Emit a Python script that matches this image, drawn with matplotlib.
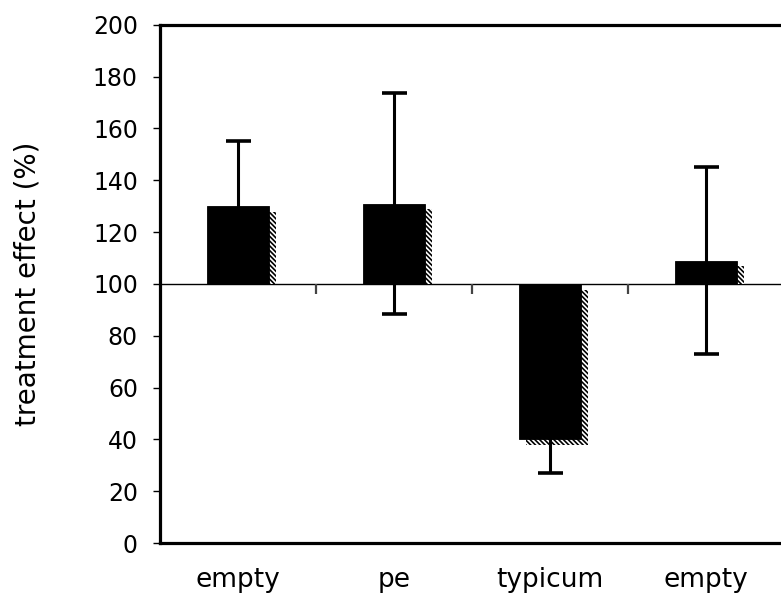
import matplotlib
matplotlib.use("Agg")
import matplotlib.pyplot as plt
import numpy as np

# Treatment effect per group, relative to control (100 %)
categories = ["empty", "pe", "typicum", "empty"]
effect = [130, 131, 40, 109]
err = [25, 42.5, 13, 36]
baseline = 100
y_ticks = [0, 20, 40, 60, 80, 100, 120, 140, 160, 180, 200]

plt.rcParams["hatch.linewidth"] = 1.2

fig = plt.figure(figsize=(7.81, 6.02), dpi=100)
ax = fig.add_axes([0.205, 0.098, 0.799, 0.861])

x = np.arange(len(categories))
values = np.array(effect, dtype=float)
heights = values - baseline
width = 0.40

# drop shadow: shifted right and down, never crossing the baseline upwards
dx, dy = 0.045, 2.3
shadow_bottom = np.where(heights < 0, baseline - dy, baseline)
shadow_height = (values - dy) - shadow_bottom

ax.axhline(baseline, color="black", lw=1.0, zorder=1)

ax.bar(x + dx, shadow_height, width=width, bottom=shadow_bottom,
       facecolor="white", edgecolor="black", linewidth=0,
       hatch="\\\\\\\\\\\\\\", zorder=2)

ax.errorbar(x, effect, yerr=err, fmt="none", ecolor="black",
            elinewidth=2.2, capsize=9, capthick=2.6, zorder=3)

ax.bar(x, heights, width=width, bottom=baseline,
       color="black", edgecolor="black", linewidth=0.6, zorder=4)

# small category separators on the 100 % line
ax.plot(x[:-1] + 0.5, [baseline] * (len(x) - 1), linestyle="none",
        marker=3, markersize=7, mew=1.6, color="#444444", zorder=1)

ax.set_xlim(-0.5, len(categories) - 0.5)
ax.set_ylim(0, 200)
ax.set_yticks(y_ticks)
ax.set_xticks(x)
ax.set_xticklabels(categories)

ax.tick_params(axis="y", direction="out", length=5, width=1.0,
               labelsize=17, pad=11)
ax.tick_params(axis="x", length=0, labelsize=19, pad=17)

for side in ["left", "top", "bottom"]:
    ax.spines[side].set_linewidth(2.3)
ax.spines["right"].set_visible(False)

ax.set_ylabel("treatment effect (%)", fontsize=20)
ax.yaxis.set_label_coords(-0.19, 0.5)

fig.savefig("out.png", dpi=100)
